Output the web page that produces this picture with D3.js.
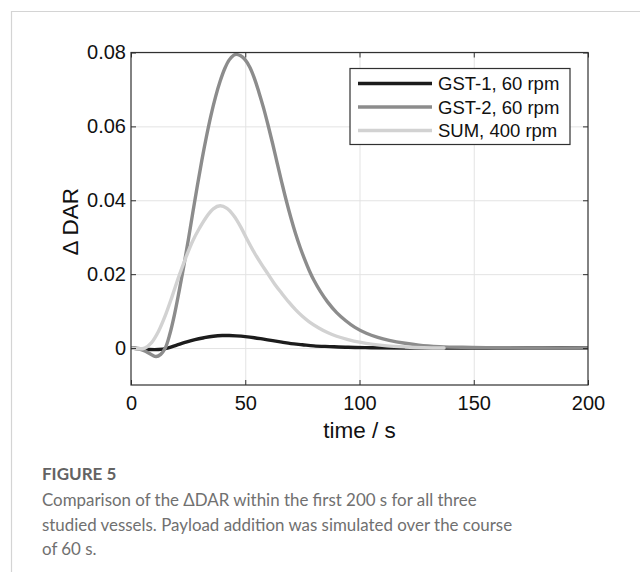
<!DOCTYPE html>
<html>
<head>
<meta charset="utf-8">
<script src="https://cdn.jsdelivr.net/npm/d3@7"></script>
<style>
  html, body { margin: 0; padding: 0; background: #fff; }
  svg { display: block; }
</style>
</head>
<body>
<svg id="fig" width="640" height="572"></svg>
<script>
// Time samples (s) and ΔDAR values for each vessel
const gst1Time = [0, 4, 8, 12, 16, 20, 24, 28, 32, 36, 40, 43, 46, 50, 54, 58, 62, 66, 70, 75, 80, 87, 95, 105, 120, 140, 170, 200];
const gst1Dar  = [0, -0.0002, -0.0004, -0.0004, 0.0000, 0.0008, 0.0016, 0.0023, 0.0028, 0.0032, 0.0034, 0.0034, 0.0033, 0.0031, 0.0028, 0.0024, 0.0020, 0.0016, 0.0012, 0.0009, 0.0006, 0.0004, 0.0002, 0.0001, 0, 0, 0, 0];

const gst2Time = [0, 3, 6, 9, 11, 13, 15, 17, 19, 21, 23, 25, 27, 29, 31, 33, 35, 37, 39, 41, 43, 45, 46, 48, 50, 52, 54, 56, 58, 60, 62, 64, 66, 68, 70, 72, 74, 76, 78, 80, 83, 86, 90, 94, 98, 103, 108, 113, 120, 126, 135, 145, 160, 180, 200];
const gst2Dar  = [0, -0.0002, -0.0008, -0.0018, -0.0023, -0.0017, 0.0000, 0.0038, 0.0090, 0.0152, 0.0218, 0.0290, 0.0365, 0.0438, 0.0508, 0.0572, 0.0630, 0.0680, 0.0722, 0.0756, 0.0780, 0.0793, 0.0795, 0.0791, 0.0780, 0.0760, 0.0730, 0.0692, 0.0650, 0.0603, 0.0553, 0.0500, 0.0448, 0.0398, 0.0352, 0.0310, 0.0273, 0.0240, 0.0210, 0.0184, 0.0152, 0.0125, 0.0096, 0.0074, 0.0056, 0.0040, 0.0029, 0.0021, 0.0013, 0.0008, 0.0004, 0.0002, 0.0001, 0, 0];

const sumTime = [0, 3, 6, 9, 12, 15, 18, 21, 24, 27, 30, 33, 36, 39, 42, 45, 48, 51, 54, 57, 60, 63, 66, 69, 72, 75, 78, 82, 86, 90, 95, 100, 106, 112, 120, 128, 137];
const sumDar  = [0, -0.0002, 0.0000, 0.0015, 0.0045, 0.0088, 0.0140, 0.0195, 0.0245, 0.0290, 0.0325, 0.0355, 0.0377, 0.0385, 0.0378, 0.0358, 0.0328, 0.0292, 0.0258, 0.0228, 0.0200, 0.0172, 0.0148, 0.0125, 0.0104, 0.0086, 0.0071, 0.0055, 0.0042, 0.0032, 0.0023, 0.0016, 0.0010, 0.0006, 0.0003, 0.0001, 0];

const seriesNames  = ["GST-1, 60 rpm", "GST-2, 60 rpm", "SUM, 400 rpm"];
const seriesColors = ["#1c1c1c", "#8c8c8c", "#d2d2d2"];

const xTicks = [0, 50, 100, 150, 200];
const yTicks = [0, 0.02, 0.04, 0.06, 0.08];
const yTickLabels = ["0", "0.02", "0.04", "0.06", "0.08"];

const captionTitle = "FIGURE 5";
const captionLines = [
  "Comparison of the \u0394DAR within the first 200 s for all three",
  "studied vessels. Payload addition was simulated over the course",
  "of 60 s."
];

// Layout
const plot = { left: 131, top: 52.5, right: 588, bottom: 385 };
const svg = d3.select("#fig");

// Page frame
svg.append("path")
  .attr("d", "M11.5,572 V11.5 H640")
  .attr("fill", "none").attr("stroke", "#d4d4d4").attr("stroke-width", 1.2);

const x = d3.scaleLinear().domain([0, 200]).range([plot.left, plot.right]);
const y = d3.scaleLinear().domain([-0.01, 0.08]).range([plot.bottom, plot.top]);
const W = plot.right - plot.left, H = plot.bottom - plot.top;

// Grid
const grid = svg.append("g").attr("class", "grid");
grid.append("g").attr("transform", `translate(0,${plot.bottom})`)
  .call(d3.axisBottom(x).tickValues(xTicks.slice(1, -1)).tickSize(-H).tickFormat(""));
grid.append("g").attr("transform", `translate(${plot.left},0)`)
  .call(d3.axisLeft(y).tickValues(yTicks).tickSize(-W).tickFormat(""));
grid.selectAll(".domain").remove();
grid.selectAll("line").attr("stroke", "#e3e3e3").attr("stroke-width", 1);

// Curves
svg.append("clipPath").attr("id", "clip").append("rect")
  .attr("x", plot.left).attr("y", plot.top).attr("width", W).attr("height", H);

const line = d3.line()
  .x(d => x(d[0])).y(d => y(d[1]))
  .curve(d3.curveCatmullRom.alpha(0.5));

const series = [
  d3.zip(gst1Time, gst1Dar),
  d3.zip(gst2Time, gst2Dar),
  d3.zip(sumTime, sumDar)
];

const curves = svg.append("g").attr("clip-path", "url(#clip)");
series.forEach((pts, i) => {
  curves.append("path")
    .attr("d", line(pts))
    .attr("fill", "none")
    .attr("stroke", seriesColors[i])
    .attr("stroke-width", 3.4)
    .attr("stroke-linejoin", "round")
    .attr("stroke-linecap", "round");
});

// Axes with inward ticks on all four sides
const axisColor = "#303030";
const font = "'Liberation Sans', Arial, sans-serif";

const xAxis = svg.append("g").attr("transform", `translate(0,${plot.bottom})`)
  .call(d3.axisBottom(x).tickValues(xTicks).tickSizeInner(-5).tickSizeOuter(0).tickPadding(11).tickFormat(d3.format("d")));
const yAxis = svg.append("g").attr("transform", `translate(${plot.left},0)`)
  .call(d3.axisLeft(y).tickValues(yTicks).tickSizeInner(-5).tickSizeOuter(0).tickPadding(5)
    .tickFormat((d, i) => yTickLabels[i]));
const xTop = svg.append("g").attr("transform", `translate(0,${plot.top})`)
  .call(d3.axisTop(x).tickValues(xTicks).tickSizeInner(-5).tickSizeOuter(0).tickFormat(""));
const yRight = svg.append("g").attr("transform", `translate(${plot.right},0)`)
  .call(d3.axisRight(y).tickValues(yTicks).tickSizeInner(-5).tickSizeOuter(0).tickFormat(""));

[xAxis, yAxis, xTop, yRight].forEach(g => {
  g.select(".domain").remove();
  g.selectAll("line").attr("stroke", axisColor).attr("stroke-width", 1);
  g.selectAll("text").attr("fill", "#111").style("font-family", font).style("font-size", "20px");
});

svg.append("rect")
  .attr("x", plot.left).attr("y", plot.top).attr("width", W).attr("height", H)
  .attr("fill", "none").attr("stroke", axisColor).attr("stroke-width", 1.2);

// Axis titles
svg.append("text")
  .attr("x", x(100)).attr("y", 438)
  .attr("text-anchor", "middle")
  .style("font-family", font).style("font-size", "22.5px").attr("fill", "#111")
  .text("time / s");

svg.append("text")
  .attr("transform", `translate(78,${(plot.top + plot.bottom) / 2 + 3}) rotate(-90)`)
  .attr("text-anchor", "middle")
  .style("font-family", font).style("font-size", "22.5px").attr("fill", "#111")
  .text("\u0394 DAR");

// Legend
const legend = svg.append("g").attr("transform", "translate(350,68.5)");
legend.append("rect")
  .attr("width", 220).attr("height", 76)
  .attr("fill", "#fff").attr("stroke", axisColor).attr("stroke-width", 1.2);
seriesNames.forEach((name, i) => {
  const ry = 15 + i * 23.5;
  legend.append("line")
    .attr("x1", 8).attr("x2", 82).attr("y1", ry).attr("y2", ry)
    .attr("stroke", seriesColors[i]).attr("stroke-width", 3.4);
  legend.append("text")
    .attr("x", 88).attr("y", ry).attr("dy", "0.36em")
    .style("font-family", font).style("font-size", "18.5px").attr("fill", "#111")
    .text(name);
});

// Caption
svg.append("text")
  .attr("x", 42).attr("y", 480)
  .style("font-family", "Lato, 'Open Sans', sans-serif").style("font-size", "17px")
  .style("font-weight", "700").attr("fill", "#636363")
  .text(captionTitle);

captionLines.forEach((t, i) => {
  svg.append("text")
    .attr("x", 42).attr("y", 506 + i * 24.5)
    .style("font-family", "Lato, 'Open Sans', sans-serif").style("font-size", "16.9px")
    .style("font-weight", "400").attr("fill", "#707070")
    .text(t);
});
</script>
</body>
</html>
